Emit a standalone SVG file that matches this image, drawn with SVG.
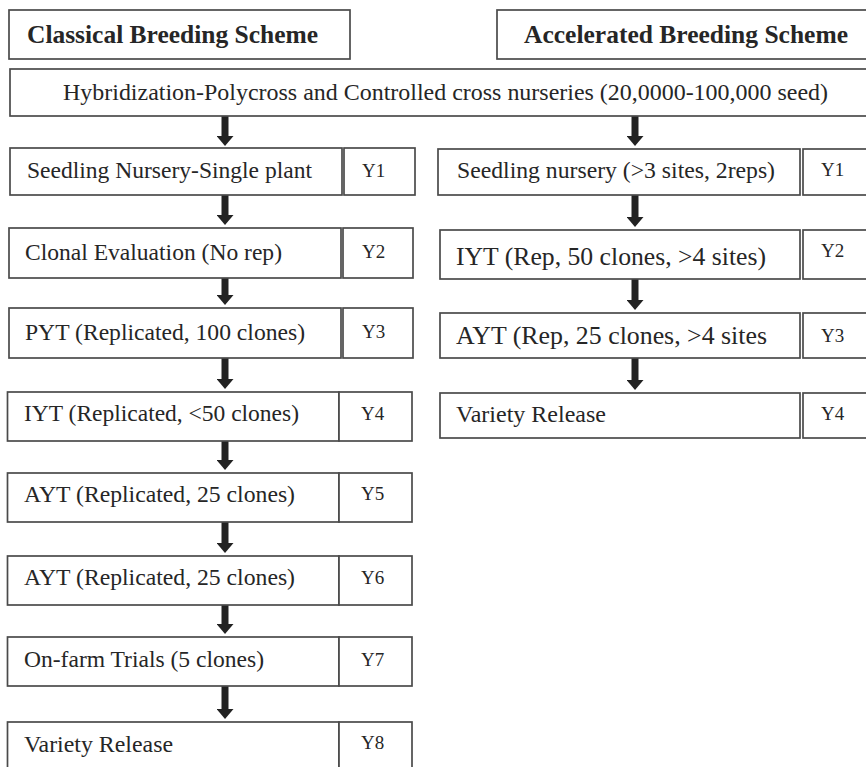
<svg xmlns="http://www.w3.org/2000/svg" width="866" height="767" viewBox="0 0 866 767">
<style>
.b{fill:#fff;stroke:#4a4a4a;stroke-width:1.7}
.t{font-family:"Liberation Serif","Times New Roman",serif;font-size:24px;fill:#262626}
.tl{font-family:"Liberation Serif","Times New Roman",serif;font-size:25.5px;fill:#262626}
.h{font-family:"Liberation Serif","Times New Roman",serif;font-size:24.5px;font-weight:bold;fill:#262626}
.y{font-family:"Liberation Serif","Times New Roman",serif;font-size:19px;fill:#262626}
.a{stroke:#222;stroke-width:7;fill:none;marker-end:url(#ah)}
</style>
<defs>
<marker id="ah" markerUnits="userSpaceOnUse" viewBox="0 0 10 17" markerWidth="10" markerHeight="17" refX="0" refY="8.5" orient="auto">
<path d="M0,0 L10,8.5 L0,17 Z" fill="#222"/>
</marker>
</defs>
<rect width="866" height="767" fill="#fff"/>

<g id="connectors">
<line class="a" x1="225" y1="116" x2="225" y2="136"/>
<line class="a" x1="225" y1="195" x2="225" y2="215"/>
<line class="a" x1="225" y1="278" x2="225" y2="295"/>
<line class="a" x1="225" y1="358" x2="225" y2="379"/>
<line class="a" x1="225" y1="441" x2="225" y2="460"/>
<line class="a" x1="225" y1="522" x2="225" y2="543"/>
<line class="a" x1="225" y1="605" x2="225" y2="624"/>
<line class="a" x1="225" y1="686" x2="225" y2="709"/>
<line class="a" x1="635" y1="116" x2="635" y2="136"/>
<line class="a" x1="635" y1="195" x2="635" y2="217"/>
<line class="a" x1="635" y1="279" x2="635" y2="300"/>
<line class="a" x1="635" y1="358" x2="635" y2="380"/>
</g>

<g id="header-classical">
<rect class="b" x="9" y="10" width="341" height="49"/>
<text class="h" x="27" y="43" textLength="291" lengthAdjust="spacingAndGlyphs">Classical Breeding Scheme</text>
</g>
<g id="header-accelerated">
<rect class="b" x="497" y="10" width="380" height="49"/>
<text class="h" x="524" y="43" textLength="324" lengthAdjust="spacingAndGlyphs">Accelerated Breeding Scheme</text>
</g>
<g id="hybridization">
<rect class="b" x="10" y="69" width="870" height="47"/>
<text class="t" x="63" y="100" textLength="765" lengthAdjust="spacingAndGlyphs">Hybridization-Polycross and Controlled cross nurseries (20,0000-100,000 seed)</text>
</g>

<g id="c-seedling">
<rect class="b" x="10" y="148" width="332" height="47"/>
<text class="t" x="27" y="178" textLength="285" lengthAdjust="spacingAndGlyphs">Seedling Nursery-Single plant</text>
<rect class="b" x="344" y="148" width="71" height="47"/>
<text class="y" x="362" y="177">Y1</text>
</g>
<g id="c-clonal">
<rect class="b" x="9" y="228" width="332" height="50"/>
<text class="t" x="25" y="260" textLength="257" lengthAdjust="spacingAndGlyphs">Clonal Evaluation (No rep)</text>
<rect class="b" x="343" y="228" width="70" height="50"/>
<text class="y" x="362" y="258">Y2</text>
</g>
<g id="c-pyt">
<rect class="b" x="9" y="308" width="332" height="50"/>
<text class="t" x="25" y="340" textLength="280" lengthAdjust="spacingAndGlyphs">PYT (Replicated, 100 clones)</text>
<rect class="b" x="343" y="308" width="70" height="50"/>
<text class="y" x="362" y="338">Y3</text>
</g>
<g id="c-iyt">
<rect class="b" x="7.5" y="392" width="331.5" height="49"/>
<text class="t" x="24" y="421" textLength="275" lengthAdjust="spacingAndGlyphs">IYT (Replicated, &lt;50 clones)</text>
<rect class="b" x="339" y="392" width="73" height="49"/>
<text class="y" x="361" y="420">Y4</text>
</g>
<g id="c-ayt1">
<rect class="b" x="7.5" y="473" width="331.5" height="49"/>
<text class="t" x="24" y="502" textLength="271" lengthAdjust="spacingAndGlyphs">AYT (Replicated, 25 clones)</text>
<rect class="b" x="339" y="473" width="73" height="49"/>
<text class="y" x="361" y="500">Y5</text>
</g>
<g id="c-ayt2">
<rect class="b" x="7.5" y="556" width="331.5" height="49"/>
<text class="t" x="24" y="585" textLength="271" lengthAdjust="spacingAndGlyphs">AYT (Replicated, 25 clones)</text>
<rect class="b" x="339" y="556" width="73" height="49"/>
<text class="y" x="361" y="584">Y6</text>
</g>
<g id="c-onfarm">
<rect class="b" x="7.5" y="637" width="331.5" height="49"/>
<text class="t" x="24" y="667" textLength="240" lengthAdjust="spacingAndGlyphs">On-farm Trials (5 clones)</text>
<rect class="b" x="339" y="637" width="73" height="49"/>
<text class="y" x="361" y="666">Y7</text>
</g>
<g id="c-release">
<rect class="b" x="7.5" y="722" width="331.5" height="60"/>
<text class="t" x="24" y="752" textLength="149" lengthAdjust="spacingAndGlyphs">Variety Release</text>
<rect class="b" x="339" y="722" width="73" height="60"/>
<text class="y" x="361" y="749">Y8</text>
</g>

<g id="a-seedling">
<rect class="b" x="438" y="149" width="362" height="46"/>
<text class="t" x="457" y="178" textLength="318" lengthAdjust="spacingAndGlyphs">Seedling nursery (&gt;3 sites, 2reps)</text>
<rect class="b" x="803" y="149" width="80" height="46"/>
<text class="y" x="821" y="176">Y1</text>
</g>
<g id="a-iyt">
<rect class="b" x="440" y="230" width="360" height="49"/>
<text class="tl" x="456" y="265" textLength="310" lengthAdjust="spacingAndGlyphs">IYT (Rep, 50 clones, &gt;4 sites)</text>
<rect class="b" x="803" y="230" width="80" height="49"/>
<text class="y" x="821" y="257">Y2</text>
</g>
<g id="a-ayt">
<rect class="b" x="440" y="313" width="360" height="45"/>
<text class="tl" x="456" y="344" textLength="311" lengthAdjust="spacingAndGlyphs">AYT (Rep, 25 clones, &gt;4 sites</text>
<rect class="b" x="803" y="313" width="80" height="45"/>
<text class="y" x="821" y="342">Y3</text>
</g>
<g id="a-release">
<rect class="b" x="440" y="393" width="360" height="45"/>
<text class="t" x="456" y="422" textLength="150" lengthAdjust="spacingAndGlyphs">Variety Release</text>
<rect class="b" x="803" y="393" width="80" height="45"/>
<text class="y" x="821" y="420">Y4</text>
</g>
</svg>
